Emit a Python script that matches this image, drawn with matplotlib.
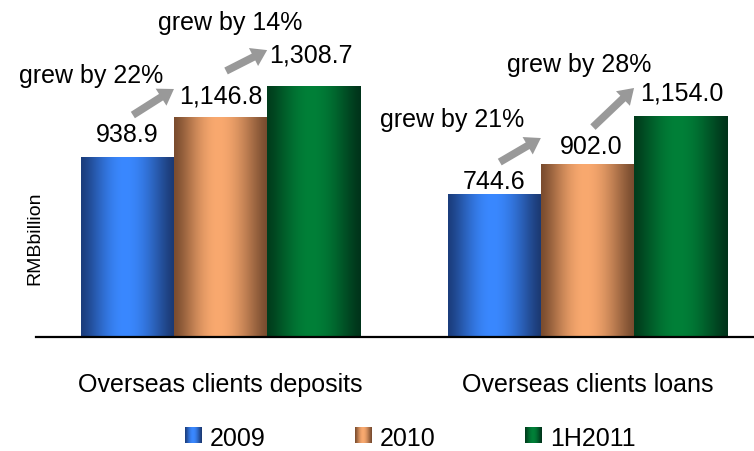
import numpy as np
import matplotlib
matplotlib.use("Agg")
import matplotlib.pyplot as plt
from matplotlib.colors import LinearSegmentedColormap, to_rgb

plt.rcParams["font.family"] = ["Liberation Sans", "DejaVu Sans"]

# ---- data -------------------------------------------------------------
categories = ["Overseas clients deposits", "Overseas clients loans"]
series = ["2009", "2010", "1H2011"]
vals_2009 = [938.9, 744.6]
vals_2010 = [1146.8, 902.0]
vals_1h2011 = [1308.7, 1154.0]
growth_labels = ["grew by 22%", "grew by 14%", "grew by 21%", "grew by 28%"]
y_label = "RMBbillion"

values = [vals_2009, vals_2010, vals_1h2011]

# ---- styling ----------------------------------------------------------
# (edge, highlight, edge) colours for the cylinder-like shading
shades = [
    ("#1B3D7C", "#3A88FF", "#1B3870"),
    ("#7A4C2E", "#F9A96F", "#764A2E"),
    ("#003C1C", "#008038", "#00331A"),
]


def make_cmap(name, a, b, c):
    """Horizontal shading: dark edges rising smoothly to a highlight."""
    a, b, c = np.array(to_rgb(a)), np.array(to_rgb(b)), np.array(to_rgb(c))
    pos = np.linspace(0, 1, 64)
    cols = []
    for p in pos:
        if p < 0.47:
            t = np.sin(p / 0.47 * np.pi / 2) ** 1.3
            cols.append(a + (b - a) * t)
        else:
            t = np.sin((1 - p) / 0.53 * np.pi / 2) ** 1.3
            cols.append(c + (b - c) * t)
    return LinearSegmentedColormap.from_list(name, list(zip(pos, cols)))


cmaps = [make_cmap(f"shade{i}", *s) for i, s in enumerate(shades)]

bar_w = 0.254
fs = 18

# value-label offsets (points) and growth-annotation layout
label_dy = [[16, 9], [15, 12], [22, 16]]
label_dx = [[0, 0], [0, 3], [-2, 1]]
# (tail_dy, tip_dy) in data units above the source / target bar values
arrow_dy = [(219, 147), (241, 188), (168, 136), (193, 145)]
# growth text centre offsets relative to arrow tail (x, y data units)
text_off = [(-0.115, 205), (0.011, 250), (-0.130, 222), (-0.038, 326)]

W, H, DPI = 754, 451, 100
fig = plt.figure(figsize=(W / DPI, H / DPI), dpi=DPI)
ax = fig.add_axes([36 / W, 1 - 337 / H, 1 - 36 / W, (337 - 30.3) / H])

x = np.arange(len(categories))
offsets = [-bar_w, 0.0, bar_w]
grad = np.linspace(0, 1, 256).reshape(1, -1)

for si, (vals, cmap) in enumerate(zip(values, cmaps)):
    bars = ax.bar(x + offsets[si], vals, bar_w, color="none", edgecolor="none",
                  zorder=2)
    for b in bars:
        x0, w, h = b.get_x(), b.get_width(), b.get_height()
        im = ax.imshow(grad, extent=[x0, x0 + w, 0, h], aspect="auto",
                       cmap=cmap, zorder=2, interpolation="bilinear")
        im.set_clip_path(b)
    for ci, v in enumerate(vals):
        ax.annotate(f"{v:,.1f}", (x[ci] + offsets[si], v),
                    xytext=(label_dx[si][ci], label_dy[si][ci]),
                    textcoords="offset points", ha="center", va="center",
                    fontsize=fs, color="black")

# growth arrows between consecutive bars
k = 0
for ci in range(len(categories)):
    for si in range(len(series) - 1):
        v0 = values[si][ci]
        v1 = values[si + 1][ci]
        tail = (x[ci] + offsets[si] + 0.015, v0 + arrow_dy[k][0])
        tip = (x[ci] + offsets[si + 1] - bar_w / 2, v1 + arrow_dy[k][1])
        ax.annotate("", xy=tip, xytext=tail,
                    arrowprops=dict(arrowstyle="simple,head_width=1.45,head_length=1.1,tail_width=0.55",
                                    color="#999999", lw=0, shrinkA=0, shrinkB=0),
                    annotation_clip=False)
        ax.text(tail[0] + text_off[k][0], tail[1] + text_off[k][1],
                growth_labels[k], ha="center", va="center", fontsize=fs,
                clip_on=False)
        k += 1

ax.set_xlim(-0.503, 1.454)
ax.set_ylim(0, 1600)
ax.set_xticks(x)
ax.set_xticklabels(categories, fontsize=fs)
ax.tick_params(axis="x", length=0, pad=26)
ax.set_yticks([])
for s in ["top", "right", "left"]:
    ax.spines[s].set_visible(False)
ax.spines["bottom"].set_linewidth(1.6)
ax.spines["bottom"].set_color("black")

fig.text(35 / W, 1 - 238 / H, y_label, rotation=90, ha="center", va="center",
         fontsize=14)

# legend row with shaded swatches
lax = fig.add_axes([0, 0, 1, 1], zorder=-1)
lax.axis("off")
for si, name in enumerate(series):
    sx = 185 + 170 * si
    lax.imshow(grad, extent=[sx, sx + 17, 443, 427], aspect="auto",
               cmap=cmaps[si], interpolation="bilinear")
    lax.text(sx + 25, 438.5, name, ha="left", va="center", fontsize=fs)
lax.set_xlim(0, W)
lax.set_ylim(H, 0)

fig.savefig("out.png", dpi=DPI)
